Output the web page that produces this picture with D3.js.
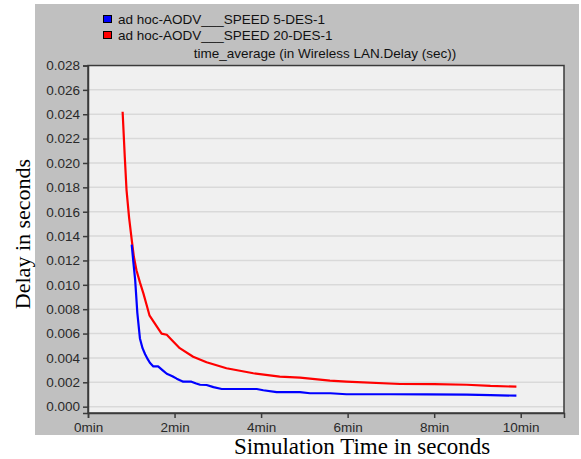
<!DOCTYPE html>
<html><head><meta charset="utf-8">
<script src="https://cdn.jsdelivr.net/npm/d3@7"></script>
<style>body{margin:0;background:#fff}svg{display:block}</style>
</head><body>
<script>
const seriesNames = ["ad hoc-AODV___SPEED 5-DES-1", "ad hoc-AODV___SPEED 20-DES-1"];
const seriesColors = ["#0000ff", "#ff0000"];
// time in minutes
const blueTime = [1.01,1.05,1.09,1.14,1.20,1.26,1.32,1.38,1.43,1.51,1.62,1.72,1.82,1.95,2.05,2.20,2.39,2.50,2.59,2.74,2.90,3.09,3.50,3.90,4.05,4.36,4.90,5.13,5.60,5.97,7.00,7.82,8.75,9.30,9.90];
const blueDelay = [0.0133,0.0118,0.0104,0.0077,0.0056,0.0048,0.0043,0.0039,0.0036,0.0033,0.0033,0.0030,0.0027,0.0025,0.0023,0.00205,0.00205,0.0019,0.0018,0.00178,0.0016,0.00145,0.00145,0.00145,0.00135,0.0012,0.0012,0.0011,0.0011,0.00102,0.00102,0.00101,0.00099,0.00095,0.0009];
const redTime = [0.80,0.85,0.89,0.95,1.01,1.06,1.12,1.20,1.28,1.35,1.42,1.55,1.70,1.82,1.93,2.12,2.43,2.74,3.20,3.82,4.43,4.90,5.59,5.97,7.21,8.00,8.75,9.30,9.90];
const redDelay = [0.0242,0.0205,0.0178,0.0155,0.0137,0.0123,0.0112,0.0102,0.0093,0.0084,0.0075,0.0068,0.0060,0.0059,0.0055,0.0048,0.0041,0.00365,0.00315,0.00274,0.00246,0.00238,0.00213,0.00205,0.00186,0.00185,0.0018,0.0017,0.00164];
const yTicks = [0,0.002,0.004,0.006,0.008,0.010,0.012,0.014,0.016,0.018,0.020,0.022,0.024,0.026,0.028];
const xTicks = [0,2,4,6,8,10];
const chartTitle = "time_average (in Wireless LAN.Delay (sec))";
const xTitle = "Simulation Time in seconds";
const yTitle = "Delay in seconds";

const W = 581, H = 459;
const svg = d3.select("body").append("svg").attr("width", W).attr("height", H);
const sans = "Arial, 'Liberation Sans', sans-serif";

// gray panel
svg.append("rect").attr("x",35).attr("y",4).attr("width",W-37).attr("height",431).attr("fill","#c0c0c0");

const L = 88, R = 564, T = 65.5, B = 413;
const x = d3.scaleLinear().domain([0, 11]).range([L, R]);
const y = d3.scaleLinear().domain([-0.00052, 0.028]).range([B, T]);

svg.append("rect").attr("x",L).attr("y",T).attr("width",R-L).attr("height",B-T).attr("fill","#f0f0f0");

// grid
svg.append("g").selectAll("line").data(yTicks).join("line")
  .attr("x1",L).attr("x2",R).attr("y1",d=>y(d)).attr("y2",d=>y(d))
  .attr("stroke","#d9d9d9").attr("stroke-width",1.5);

// frame
svg.append("rect").attr("x",L).attr("y",T).attr("width",R-L).attr("height",B-T)
  .attr("fill","none").attr("stroke","#3a3a3a").attr("stroke-width",1.5);

// axes
const yAxis = d3.axisLeft(y).tickValues(yTicks).tickFormat(d3.format(".3f")).tickSize(5).tickPadding(3);
const gy = svg.append("g").attr("transform",`translate(${L},0)`).call(yAxis);
const xAxis = d3.axisBottom(x).tickValues(xTicks).tickFormat(d=>d+"min").tickSize(5).tickPadding(4);
const gx = svg.append("g").attr("transform",`translate(0,${B})`).call(xAxis);
[gx, gy].forEach(g=>{
  g.select(".domain").attr("stroke","#3a3a3a").attr("stroke-width",1.5);
  g.selectAll(".tick line").attr("stroke","#3a3a3a").attr("stroke-width",1.5);
  g.selectAll(".tick text").attr("fill","#2a2a2a").style("font-family",sans).style("font-size","13.5px");
});

// lines
const line = d3.line().x(d=>x(d[0])).y(d=>y(d[1]));
const blue = blueTime.map((t,i)=>[t, blueDelay[i]]);
const red = redTime.map((t,i)=>[t, redDelay[i]]);
svg.append("path").datum(red).attr("d",line).attr("fill","none").attr("stroke",seriesColors[1]).attr("stroke-width",2.2).attr("stroke-linejoin","round");
svg.append("path").datum(blue).attr("d",line).attr("fill","none").attr("stroke",seriesColors[0]).attr("stroke-width",2.2).attr("stroke-linejoin","round");

// legend
const lg = svg.append("g");
seriesNames.forEach((n,i)=>{
  const yy = 15 + i*16;
  lg.append("rect").attr("x",103.5).attr("y",yy+0.5).attr("width",8).attr("height",7).attr("fill",seriesColors[i]).attr("stroke","#000").attr("stroke-width",1);
  lg.append("text").attr("x",118).attr("y",yy+8.5).text(n)
    .style("font-family",sans).style("font-size","13.5px").attr("fill","#111");
});

// title
svg.append("text").attr("x",325).attr("y",58).attr("text-anchor","middle").text(chartTitle)
  .style("font-family",sans).style("font-size","13.5px").attr("fill","#111");

// axis titles
svg.append("text").attr("x",362).attr("y",454).attr("text-anchor","middle").text(xTitle)
  .style("font-family","'Times New Roman', 'Liberation Serif', serif").style("font-size","23px").attr("fill","#000");
svg.append("text").attr("transform","translate(30,234) rotate(-90)").attr("text-anchor","middle").text(yTitle)
  .style("font-family","'Times New Roman', 'Liberation Serif', serif").style("font-size","22px").attr("fill","#000");
</script>
</body></html>
